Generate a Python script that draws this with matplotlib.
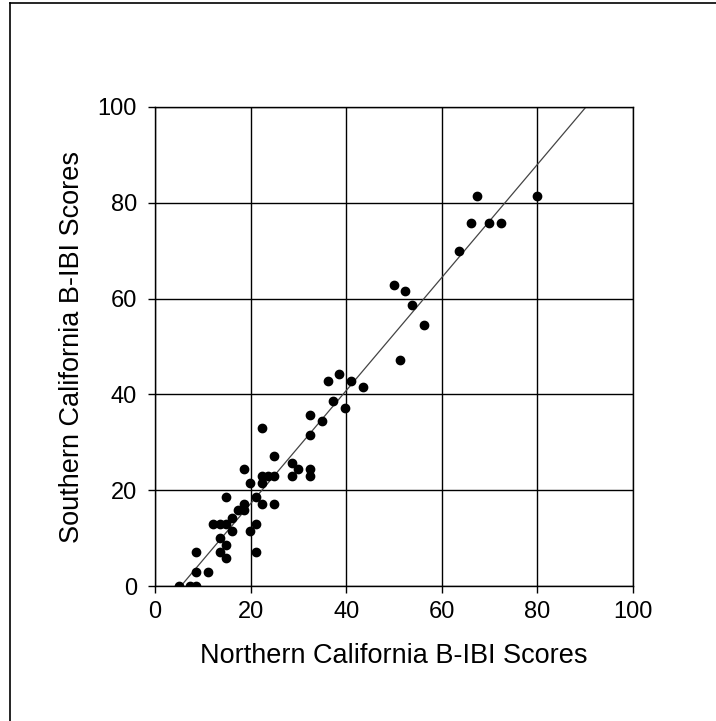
import matplotlib
matplotlib.use("Agg")
from matplotlib import pyplot as plt
from matplotlib.lines import Line2D

plt.rcParams['font.family'] = ['Liberation Sans', 'DejaVu Sans']

##### Data
north = [5.0, 7.4, 8.6, 8.6, 8.6, 11.1, 12.2, 13.6, 14.8, 13.6,
         13.6, 14.8, 14.8, 14.8, 16.1, 16.1, 17.3, 18.6, 18.6, 18.6,
         19.9, 19.9, 21.1, 21.1, 21.1, 22.3, 22.3, 22.3, 22.3, 23.7,
         24.9, 24.9, 24.9, 28.7, 28.7, 29.9, 32.4, 32.4, 32.4, 32.4,
         34.9, 36.1, 37.3, 38.6, 39.8, 41.1, 43.6, 50.0, 51.2, 52.4,
         53.7, 56.2, 63.7, 66.2, 67.4, 69.9, 72.4, 79.9]
south = [0.0, 0.0, 0.0, 3.0, 7.2, 3.0, 13.0, 13.0, 13.0, 10.1,
         7.2, 8.6, 5.8, 18.6, 11.5, 14.3, 15.9, 15.9, 17.2, 24.4,
         21.5, 11.5, 13.0, 7.2, 18.6, 21.5, 17.2, 32.9, 22.9, 22.9,
         22.9, 27.2, 17.2, 25.7, 22.9, 24.4, 24.4, 22.9, 31.5, 35.7,
         34.4, 42.9, 38.6, 44.3, 37.2, 42.9, 41.5, 62.9, 47.2, 61.5,
         58.6, 54.4, 70.0, 75.7, 81.5, 75.7, 75.7, 81.5]

# regression line
fit_slope = 1.18
fit_intercept = -6.4
fit_x = [(0 - fit_intercept) / fit_slope, (100 - fit_intercept) / fit_slope]

ticks = [0, 20, 40, 60, 80, 100]

##### Plot
fig = plt.figure(figsize=(7.16, 7.21), dpi=100)
ax = fig.add_axes([0.2165, 0.1872, 0.6675, 0.6644])

ax.plot(fit_x, [fit_slope * v + fit_intercept for v in fit_x],
        color='#444444', linewidth=0.9, zorder=2)
ax.plot(north, south, 'o', color='black', markersize=6, zorder=3)

ax.set_xlim(0, 100)
ax.set_ylim(0, 100)
ax.set_xticks(ticks)
ax.set_yticks(ticks)
ax.grid(True, color='black', linewidth=1.0)
ax.set_axisbelow(True)
for s in ax.spines.values():
    s.set_color('black')
    s.set_linewidth(1.0)
ax.tick_params(direction='out', length=5, width=1, labelsize=17)
ax.tick_params(axis='x', pad=6)
ax.tick_params(axis='y', pad=8)

ax.set_xlabel("Northern California B-IBI Scores", fontsize=19.5, labelpad=14)
ax.set_ylabel("Southern California B-IBI Scores", fontsize=19.5, labelpad=9)

# outer frame
fig.add_artist(Line2D([9.5 / 716, 9.5 / 716], [0, 1 - 2.5 / 721],
                      transform=fig.transFigure, color='black', linewidth=1.2))
fig.add_artist(Line2D([9.5 / 716, 1], [1 - 2.5 / 721, 1 - 2.5 / 721],
                      transform=fig.transFigure, color='black', linewidth=1.2))

plt.savefig('out.png', dpi=100)
